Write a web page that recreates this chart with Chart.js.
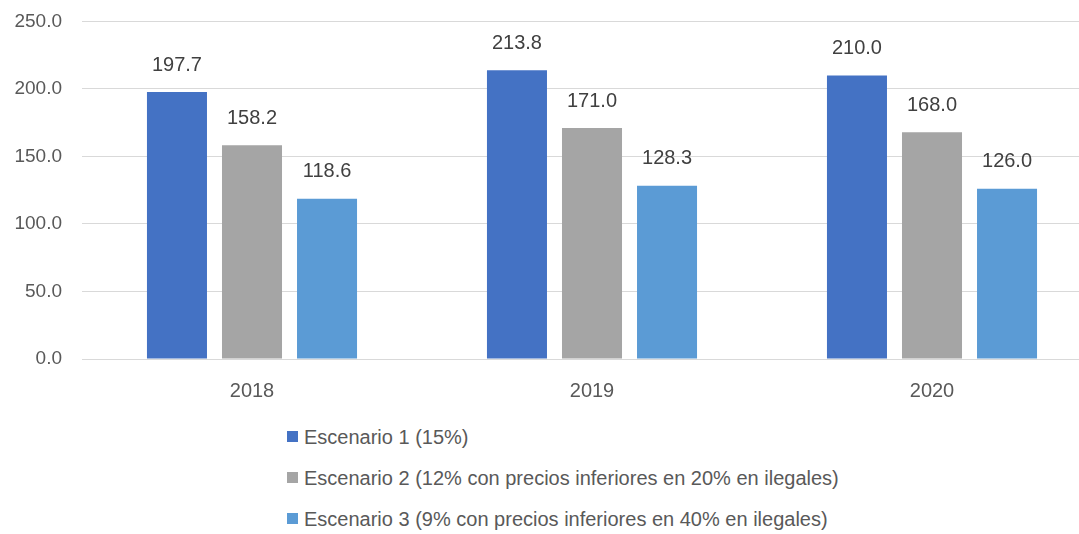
<!DOCTYPE html>
<html>
<head>
<meta charset="utf-8">
<script src="https://cdn.jsdelivr.net/npm/chart.js@4/dist/chart.umd.min.js"></script>
<style>
  body { margin: 0; background: #fff; overflow: hidden; }
  #wrap { position: relative; width: 1079px; height: 534px; overflow: hidden; }
  #box { position: absolute; left: 0; top: -10px; width: 1105px; height: 420px; }
  #legend { position: absolute; left: 287px; top: 423px; font-family: "Liberation Sans", Arial, sans-serif; font-size: 20px; color: #595959; }
  #legend div { height: 41px; line-height: 28px; white-space: nowrap; }
  #legend span { display: inline-block; width: 11px; height: 11px; margin-right: 6px; vertical-align: 2px; }
</style>
</head>
<body>
<div id="wrap">
  <div id="box"><canvas id="chart"></canvas></div>
  <div id="legend"></div>
</div>
<script>
// datos
const years = ["2018", "2019", "2020"];
const escenario1 = [197.7, 213.8, 210.0];
const escenario2 = [158.2, 171.0, 168.0];
const escenario3 = [118.6, 128.3, 126.0];
const seriesNames = [
  "Escenario 1 (15%)",
  "Escenario 2 (12% con precios inferiores en 20% en ilegales)",
  "Escenario 3 (9% con precios inferiores en 40% en ilegales)"
];
const colors = ["#4472C4", "#A5A5A5", "#5B9BD5"];

const FONT = "'Liberation Sans', Arial, sans-serif";

// etiquetas encima de las barras
const valueLabels = {
  id: "valueLabels",
  afterDatasetsDraw(chart) {
    const ctx = chart.ctx;
    ctx.save();
    ctx.font = "20px " + FONT;
    ctx.fillStyle = "#404040";
    ctx.textAlign = "center";
    ctx.textBaseline = "bottom";
    chart.data.datasets.forEach((ds, i) => {
      chart.getDatasetMeta(i).data.forEach((bar, j) => {
        ctx.fillText(ds.data[j].toFixed(1), bar.x, bar.y - 17);
      });
    });
    ctx.restore();
  }
};

const chart = new Chart(document.getElementById("chart"), {
  type: "bar",
  data: {
    labels: years,
    datasets: [escenario1, escenario2, escenario3].map((d, i) => ({
      label: seriesNames[i],
      data: d,
      backgroundColor: colors[i],
      barPercentage: 0.8,
      categoryPercentage: 0.662,
    })),
  },
  options: {
    responsive: true,
    maintainAspectRatio: false,
    animation: false,
    layout: { padding: { top: 2, right: 3, left: 0, bottom: 0 } },
    plugins: {
      legend: { display: false },
      tooltip: { enabled: false },
    },
    scales: {
      x: {
        grid: { display: false },
        border: { display: true, color: "#D9D9D9" },
        ticks: { color: "#595959", font: { family: FONT, size: 20 }, padding: 12 },
        afterFit: (s) => { s.height = 51; },
      },
      y: {
        min: 0,
        max: 250,
        border: { display: false },
        grid: { color: "#D9D9D9", drawTicks: false },
        ticks: {
          stepSize: 50,
          color: "#595959",
          font: { family: FONT, size: 19 },
          padding: 20,
          callback: (v) => v.toFixed(1),
        },
        afterFit: (s) => { s.width = 82; },
      },
    },
  },
  plugins: [valueLabels],
});

// leyenda vertical
const legendEl = document.getElementById("legend");
seriesNames.forEach((name, i) => {
  const row = document.createElement("div");
  const sw = document.createElement("span");
  sw.style.background = colors[i];
  row.appendChild(sw);
  row.appendChild(document.createTextNode(name));
  legendEl.appendChild(row);
});
</script>
</body>
</html>
